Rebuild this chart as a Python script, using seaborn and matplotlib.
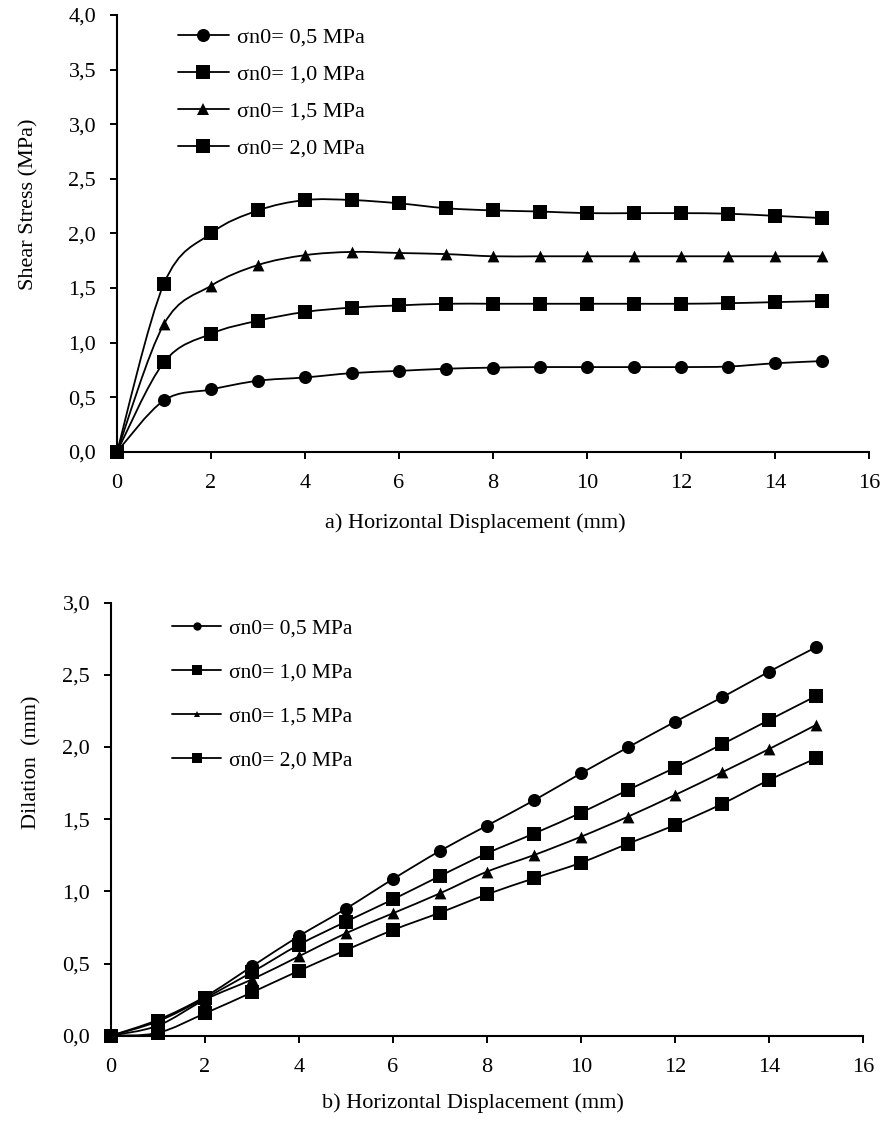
import numpy as np
import pandas as pd
import seaborn as sns
import matplotlib.pyplot as plt
from matplotlib.path import Path
from matplotlib.patches import PathPatch
from matplotlib.lines import Line2D

# horizontal displacement (mm)
disp = list(range(16))
labels = ['σn0= 0,5 MPa', 'σn0= 1,0 MPa', 'σn0= 1,5 MPa', 'σn0= 2,0 MPa']
markers = ['o', 's', '^', 's']

# a) shear stress (MPa)
shear_05 = [0.0, 0.47, 0.57, 0.65, 0.68, 0.72, 0.74, 0.76, 0.77, 0.775, 0.775, 0.775, 0.775, 0.78, 0.81, 0.83]
shear_10 = [0.0, 0.82, 1.08, 1.20, 1.28, 1.32, 1.34, 1.355, 1.355, 1.355, 1.355, 1.355, 1.355, 1.36, 1.37, 1.38]
shear_15 = [0.0, 1.17, 1.52, 1.71, 1.80, 1.83, 1.82, 1.81, 1.79, 1.79, 1.79, 1.79, 1.79, 1.79, 1.79, 1.79]
shear_20 = [0.0, 1.54, 2.0, 2.21, 2.305, 2.305, 2.275, 2.23, 2.21, 2.20, 2.185, 2.185, 2.185, 2.18, 2.16, 2.14]

# b) dilation (mm)
dil_05 = [0.0, 0.11, 0.27, 0.48, 0.69, 0.88, 1.085, 1.28, 1.455, 1.63, 1.817, 1.997, 2.174, 2.343, 2.521, 2.69]
dil_10 = [0.0, 0.10, 0.26, 0.44, 0.63, 0.79, 0.944, 1.106, 1.263, 1.40, 1.544, 1.702, 1.856, 2.018, 2.186, 2.352]
dil_15 = [0.0, 0.07, 0.25, 0.39, 0.55, 0.71, 0.848, 0.986, 1.136, 1.251, 1.378, 1.517, 1.667, 1.824, 1.985, 2.152]
dil_20 = [0.0, 0.02, 0.155, 0.30, 0.45, 0.593, 0.732, 0.852, 0.979, 1.09, 1.198, 1.33, 1.459, 1.605, 1.771, 1.921]

shear = pd.DataFrame({'disp': disp * 4,
                      'value': shear_05 + shear_10 + shear_15 + shear_20,
                      'series': np.repeat(labels, 16)})
dilation = pd.DataFrame({'disp': disp * 4,
                         'value': dil_05 + dil_10 + dil_15 + dil_20,
                         'series': np.repeat(labels, 16)})

sns.set_theme(style='ticks')
plt.rcParams['font.family'] = ['Liberation Serif', 'DejaVu Serif']
plt.rcParams['text.color'] = 'black'
plt.rcParams['axes.labelcolor'] = 'black'
plt.rcParams['xtick.color'] = 'black'
plt.rcParams['ytick.color'] = 'black'
plt.rcParams['axes.edgecolor'] = 'black'

FS = 16


def smooth_line(ax, xs, ys, lw=1.3):
    # excel-like smoothed line: cubic bezier through the points
    pts = np.column_stack([xs, ys]).astype(float)
    n = len(pts)
    verts = [pts[0]]
    codes = [Path.MOVETO]
    for i in range(n - 1):
        p0 = pts[i - 1] if i > 0 else pts[i]
        p1, p2 = pts[i], pts[i + 1]
        p3 = pts[i + 2] if i + 2 < n else pts[i + 1]
        verts += [p1 + (p2 - p0) / 6, p2 - (p3 - p1) / 6, p2]
        codes += [Path.CURVE4] * 3
    ax.add_patch(PathPatch(Path(verts, codes), facecolor='none',
                           edgecolor='black', lw=lw, zorder=2))


def draw_panel(ax, df, ylim, ystep, ylabel, xlabel, sizes):
    for lab, mk, ms in zip(labels, markers, sizes):
        sub = df[df['series'] == lab]
        smooth_line(ax, sub['disp'], sub['value'])
        sns.scatterplot(x=sub['disp'], y=sub['value'], marker=mk, s=ms ** 2,
                        color='black', linewidth=0, ax=ax, zorder=3, clip_on=False)
    ax.set_xlim(0, 16)
    ax.set_ylim(*ylim)
    ax.set_xticks(range(0, 17, 2))
    yt = np.arange(ylim[0], ylim[1] + 0.01, ystep)
    ax.set_yticks(yt)
    ax.set_yticklabels([f'{v:.1f}'.replace('.', ',') for v in yt])
    ax.set_xlabel(xlabel, fontsize=FS)
    ax.set_ylabel(ylabel, fontsize=FS)
    ax.tick_params(axis='both', labelsize=FS, width=1.4, length=5, direction='out')
    ax.tick_params(axis='x', pad=11)
    ax.tick_params(axis='y', pad=10)
    for s in ['left', 'bottom']:
        ax.spines[s].set_linewidth(1.5)
    sns.despine(ax=ax)


fig = plt.figure(figsize=(8.86, 11.24), dpi=100)
ax1 = fig.add_axes([117 / 886, 1 - 451.7 / 1124, 752 / 886, 436.7 / 1124])
ax2 = fig.add_axes([111 / 886, 1 - 1035.7 / 1124, 752 / 886, 433.2 / 1124])

draw_panel(ax1, shear, (0, 4), 0.5, 'Shear Stress (MPa)',
           'a) Horizontal Displacement (mm)', [9.4, 9.4, 8.5, 9.4])
draw_panel(ax2, dilation, (0, 3), 0.5, 'Dilation  (mm)',
           'b) Horizontal Displacement (mm)', [9.4, 9.4, 8.5, 9.4])

ax1.yaxis.set_label_coords(-0.105, 0.567)
ax1.xaxis.set_label_coords(0.476, -0.140)
ax2.yaxis.set_label_coords(-0.093, 0.632)
ax2.xaxis.set_label_coords(0.481, -0.132)

h1 = [Line2D([], [], color='black', lw=1.3, marker=m, markersize=s, markeredgewidth=0)
      for m, s in zip(markers, [9.4, 9.4, 8, 9.4])]
ax1.legend(h1, labels, loc='upper left', bbox_to_anchor=(0.081, 0.972), frameon=False,
           fontsize=FS, handlelength=2.3, handletextpad=0.35, labelspacing=0.74,
           borderpad=0, borderaxespad=0, numpoints=1)

h2 = [Line2D([], [], color='black', lw=1.3, marker=m, markersize=s, markeredgewidth=0)
      for m, s in zip(markers, [6, 6.5, 5, 6.5])]
ax2.legend(h2, labels, loc='upper left', bbox_to_anchor=(0.081, 0.962), frameon=False,
           fontsize=FS - 0.5, handlelength=2.3, handletextpad=0.35, labelspacing=1.1,
           borderpad=0, borderaxespad=0, numpoints=1)

fig.savefig('out.png', dpi=100)
